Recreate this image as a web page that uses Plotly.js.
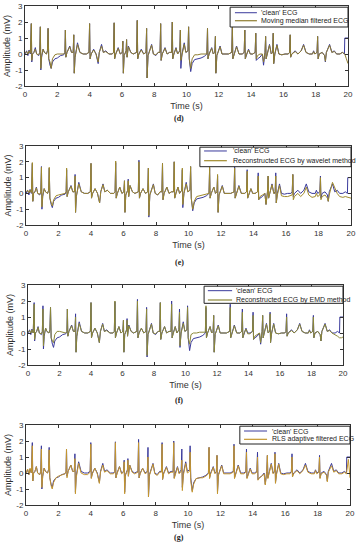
<!DOCTYPE html>
<html>
<head>
<meta charset="utf-8">
<script src="https://cdn.plot.ly/plotly-3.0.1.min.js"></script>
<style>html,body{margin:0;padding:0;background:#fff;}#chart{width:358px;height:550px;}</style>
</head>
<body>
<div id="chart"></div>
<script>
// time base (s)
const time = [
0,0.10,0.18,0.25,0.33,0.39,0.42,0.47,0.55,0.64,0.72,0.85,0.91,0.95,0.98,1.03,
1.12,1.20,1.33,1.39,1.43,1.47,1.55,1.62,1.70,1.85,2.00,2.20,2.40,
2.47,2.50,2.53,2.60,2.77,2.88,2.98,3.02,3.05,3.10,3.25,3.40,3.60,3.80,
3.96,4.00,4.03,4.10,4.25,4.40,4.53,4.60,4.74,4.85,5.00,5.20,5.40,
5.48,5.52,5.55,5.62,5.77,5.90,6.02,6.06,6.09,6.14,6.26,6.29,6.32,6.40,6.55,6.70,
6.91,6.95,6.98,7.05,7.20,7.35,7.49,7.53,7.56,7.62,7.84,7.95,8.10,8.25,
8.36,8.40,8.43,8.50,8.67,8.80,8.95,9.08,9.12,9.15,9.22,9.35,9.45,
9.58,9.62,9.65,9.72,9.86,9.96,10.09,10.13,10.17,10.26,10.35,10.50,10.70,10.90,11.10,
11.26,11.30,11.33,11.40,11.56,11.66,11.75,11.79,11.82,11.88,12.08,12.20,12.40,12.60,
12.80,12.84,12.87,12.95,13.10,13.25,13.45,13.57,13.61,13.64,13.72,13.84,13.95,14.10,
14.25,14.29,14.32,14.40,14.55,14.70,14.77,14.86,14.90,14.93,15.00,15.14,15.25,
15.33,15.37,15.40,15.47,15.60,15.72,15.90,16.10,16.30,
16.38,16.42,16.45,16.52,16.73,16.90,17.10,17.25,17.40,17.60,17.80,
17.87,17.95,18.08,18.12,18.15,18.22,18.40,18.55,18.60,18.66,18.86,19.00,19.15,19.30,
19.50,19.65,19.78,19.80,19.90,20.00
];
// 'clean' ECG (mV)
const clean = [
0,0.2,-0.1,0.25,0,1.9,-0.5,0,0.1,0.4,0,-0.1,0.1,1.7,-1.0,-0.2,
0.3,0.1,0,0.2,1.6,-0.3,-0.7,-0.9,-0.5,-0.3,-0.25,-0.1,-0.05,
0.1,1.5,-0.2,0.1,0.5,0.1,0.1,1.2,-1.2,-0.2,0.7,0.1,0,0,
0.1,1.9,-0.3,0,0.3,0,-0.6,0.1,0.6,0.1,0.2,0,0,
0.1,1.95,-0.3,0,0.4,0,0.1,0.8,-1.2,-0.1,0.2,0.9,-0.2,0.5,0.1,0,
0.1,2.1,-0.3,0,0.3,0,0.1,1.6,-1.5,-0.1,0.6,0,-0.1,0.1,
0.1,1.9,-0.4,0,0.4,0,0.1,0.1,2.0,-0.3,0,0.4,0,
0.2,1.5,-0.9,0,0.7,0.1,0.2,1.7,-0.3,-1.1,-0.6,-0.35,-0.3,-0.25,-0.15,
0,1.6,-0.3,0,0.4,0,0.1,1.1,-1.2,-0.1,0.5,0,0,0,
0.1,1.8,-0.3,0,0.5,0,0,0.1,1.5,-0.3,0,0.3,0,0,
0.1,1.3,-0.4,-0.3,-0.2,0,-0.7,0.1,1.1,-0.3,0,0.6,0,
0.1,1.3,-0.6,0,0.6,0,-0.05,0,0,
0.1,1.2,-0.2,0,0.2,0,0.2,0.6,0.1,0,0,
0.2,0,0.1,1.1,-0.3,0,0.1,-0.1,-0.5,0.1,0.6,0.1,0.2,0,
0,0.1,0,1.0,1.0,1.0
];
// Moving median filtered ECG (mV)
const medianFiltered = [
0.05,0.15,0,0.2,0.05,1.9,-0.4,0,0.1,0.3,0,-0.05,0.1,1.7,-0.9,-0.1,
0.3,0.1,0,0.2,1.6,-0.3,-0.5,-0.9,-0.3,-0.05,0,0,0,
0.1,1.5,-0.2,0.1,0.45,0.1,0.1,1.2,-1.2,-0.2,0.6,0.1,0,0,
0.1,1.9,-0.3,0,0.25,0,-0.5,0.1,0.5,0.1,0.15,0,0,
0.1,1.95,-0.3,0,0.35,0,0.1,0.8,-1.2,-0.1,0.2,0.9,-0.2,0.45,0.1,0,
0.1,2.1,-0.3,0,0.25,0,0.1,1.6,-1.5,-0.1,0.55,0,-0.05,0.1,
0.1,1.9,-0.4,0,0.35,0,0.1,0.1,2.0,-0.3,0,0.35,0,
0.2,1.5,-0.4,0,0.6,0.1,0.2,1.7,-0.3,-0.9,-0.3,-0.05,-0.05,0,0,
0,1.6,-0.3,0,0.35,0,0.1,1.1,-1.2,-0.1,0.45,0,0,0,
0.1,1.8,-0.3,0,0.45,0,0,0.1,1.5,-0.3,0,0.25,0,0,
0.1,1.3,-0.3,-0.1,0,0,-0.5,0.1,1.1,-0.3,0,0.55,0,
0.1,1.3,-0.6,0,0.55,0,-0.05,0,0,
0.1,1.2,-0.2,0,0.15,0,0.2,0.55,0.1,0,0,
0.15,0,0.1,1.1,-0.3,0,0.1,-0.1,-0.45,0.1,0.55,0.1,0.15,0,
0,0.1,0,0,-0.3,-0.6
];
// Reconstructed ECG by wavelet method (mV)
const waveletRec = [
0.1,0.2,0.05,0.2,0.05,1.95,-0.5,0.05,0.1,0.35,0,-0.05,0.1,1.65,-0.85,-0.1,
0.3,0.1,0,0.2,1.65,-0.3,-0.6,-0.8,-0.4,-0.15,-0.1,-0.05,0,
0.1,1.6,-0.2,0.1,0.45,0.1,0.1,1.1,-1.2,-0.15,0.6,0.1,0,0,
0.1,1.9,-0.3,0,0.3,0,-0.6,0.1,0.55,0.1,0.2,0,0,
0.1,2.05,-0.3,0,0.4,0,0.1,0.8,-1.2,-0.1,0.2,0.8,-0.2,0.5,0.1,0,
0.1,2.0,-0.3,0,0.3,0,0.1,1.6,-1.4,-0.1,0.55,0,-0.1,0.1,
0.1,1.9,-0.4,0,0.4,0,0.1,0.1,2.0,-0.3,0,0.4,0,
0.2,1.6,-0.7,0,0.6,0.1,0.2,1.7,-0.3,-1.0,-0.5,-0.2,-0.15,-0.1,-0.05,
0,1.7,-0.3,0,0.4,0,0.1,1.2,-1.2,-0.1,0.45,0,0,0,
0.1,1.6,-0.3,0,0.45,0,0,0.1,1.4,-0.3,0,0.3,0,0,
0.1,1.1,-0.4,-0.2,-0.1,0,-0.7,0.1,1.1,-0.3,0,0.55,0,
0.0,1.1,-0.6,-0.1,0.5,-0.15,-0.2,-0.2,-0.15,
-0.1,1.2,-0.4,-0.2,0,-0.2,0,0.4,-0.1,-0.25,-0.2,
0,-0.2,-0.1,1.0,-0.4,-0.2,-0.1,-0.3,-0.5,-0.1,0.7,0.3,0,-0.2,
-0.25,-0.2,-0.25,-0.25,-0.3,-0.3
];
// Reconstructed ECG by EMD method (mV)
const emdRec = [
0.05,0.15,0,0.2,0,1.8,-0.4,0,0.1,0.35,0,-0.05,0.1,1.5,-0.8,-0.1,
0.3,0.1,0,0.2,1.6,-0.3,-0.5,-0.6,-0.1,0.1,0.1,0.05,0,
0.1,1.5,-0.2,0.1,0.45,0.1,0.1,1.0,-1.2,-0.2,0.6,0.1,0,0,
0.1,1.9,-0.3,0,0.3,0,-0.6,0.1,0.55,0.1,0.15,0,0,
0.1,2.0,-0.3,0,0.4,0,0.1,0.8,-1.2,-0.1,0.2,0.8,-0.2,0.45,0.1,0,
0.1,2.0,-0.3,0,0.3,0,0.1,1.5,-1.4,-0.1,0.55,0,-0.05,0.1,
0.1,1.9,-0.4,0,0.4,0,0.1,0.1,1.8,-0.3,0,0.4,0,
0.2,1.3,-0.8,0,0.6,0.1,0.2,1.6,-0.3,-0.7,-0.1,0,0,0.05,0.05,
0.05,1.7,-0.3,0,0.4,0,0.1,1.1,-1.2,-0.1,0.45,0,0,0,
0.1,1.6,-0.3,0,0.45,0,0,0.1,1.3,-0.3,0,0.25,-0.05,-0.05,
0.1,1.1,-0.4,-0.2,-0.1,0,-0.6,0.1,1.1,-0.3,0,0.55,0,
0.1,1.2,-0.6,0,0.55,0,-0.05,0,0,
0.1,1.0,-0.2,0,0.15,0,0.2,0.55,0.1,0,0,
0.15,0,0.1,1.0,-0.3,0,0.1,-0.1,-0.5,0.1,0.55,0.1,0.15,0,
-0.1,-0.2,-0.3,-0.3,-0.3,-0.25
];
// RLS adaptive filtered ECG (mV)
const rlsFiltered = [
0,0.25,-0.1,0.3,0,1.7,-0.5,0,0.1,0.4,0,-0.1,0.1,1.5,-0.9,-0.2,
0.3,0.1,0,0.2,1.45,-0.3,-0.8,-1.0,-0.6,-0.3,-0.2,-0.1,-0.05,
0.1,1.5,-0.3,0.1,0.5,0.1,0.1,0.9,-1.3,-0.3,0.6,0.0,-0.1,-0.1,
0.05,1.8,-0.35,-0.05,0.3,-0.05,-0.65,0.05,0.5,0.05,0.15,-0.05,-0.05,
0.05,1.9,-0.3,-0.05,0.4,-0.05,0.05,0.7,-1.3,-0.15,0.15,0.8,-0.2,0.5,0.05,-0.05,
0.05,1.9,-0.3,-0.05,0.3,-0.05,0.05,1.0,-1.5,-0.15,0.55,-0.05,-0.15,0.05,
0.05,1.8,-0.4,-0.05,0.35,-0.05,0.05,0.05,1.9,-0.35,-0.05,0.35,-0.05,
0.1,0.8,-1.1,-0.1,0.6,0.0,0.1,1.3,-0.5,-1.2,-0.7,-0.35,-0.3,-0.3,-0.2,
-0.05,1.6,-0.35,-0.05,0.35,-0.05,0.05,1.1,-1.3,-0.15,0.45,-0.05,-0.05,-0.05,
0.05,1.7,-0.35,-0.05,0.45,-0.05,-0.05,0.05,1.3,-0.35,-0.05,0.25,-0.05,-0.05,
0.05,1.0,-0.45,-0.3,-0.2,-0.05,-0.75,0.05,1.1,-0.35,-0.05,0.55,-0.05,
0.05,1.2,-0.65,-0.05,0.55,-0.05,-0.1,-0.05,-0.05,
0.05,1.0,-0.25,-0.05,0.15,-0.05,0.15,0.5,0.05,-0.05,-0.05,
0.15,-0.05,0.05,1.0,-0.35,-0.05,0.05,-0.15,-0.55,0.05,0.45,0.05,0.15,-0.05,
-0.05,0.05,-0.05,0.1,0.85,-0.3
];

const panelLabels = ['(d)', '(e)', '(f)', '(g)'];
const cleanName = "'clean' ECG";
const filteredNames = ['Moving median filtered ECG', 'Reconstructed ECG by wavelet method',
                       'Reconstructed ECG by EMD method', 'RLS adaptive filtered ECG'];
const filteredSeries = [medianFiltered, waveletRec, emdRec, rlsFiltered];
const xTickVals = [0,2,4,6,8,10,12,14,16,18,20];
const yTickVals = [-2,-1,0,1,2,3];

[clean, medianFiltered, waveletRec, emdRec, rlsFiltered].forEach(function(a, i){
  if (a.length !== time.length) console.error('length mismatch', i, a.length, time.length);
});

// layout geometry (pixels -> paper)
const W = 358, H = 550;
const panels = [
  {x0: 25, x1: 348, top: 6,   bot: 86,  label: 119, leg: {l: 0.635, b: 0.7375, r1: 0.916, r2: 0.816, s0: 0.650, s1: 0.718, tx: 0.724}},
  {x0: 26, x1: 351, top: 146, bot: 225, label: 262, leg: {l: 0.535, b: 0.738,  r1: 0.937, r2: 0.814, s0: 0.548, s1: 0.618, tx: 0.632}},
  {x0: 28, x1: 343, top: 285, bot: 365, label: 400, leg: {l: 0.559, b: 0.771,  r1: 0.929, r2: 0.8125, s0: 0.571, s1: 0.648, tx: 0.655}},
  {x0: 26, x1: 350, top: 425, bot: 505, label: 537, leg: {l: 0.660, b: 0.7625, r1: 0.925, r2: 0.821, s0: 0.673, s1: 0.744, tx: 0.753}}
];
const blue = '#3a3a9c';
const filtColors = ['#8f7d30', '#a08a2c', '#8c8838', '#c4962f'];
const font = 'Arial, "Liberation Sans", sans-serif';

const data = [];
const layout = {
  width: W, height: H,
  margin: {l: 0, r: 0, t: 0, b: 0},
  paper_bgcolor: '#fff', plot_bgcolor: '#fff',
  showlegend: false,
  font: {family: font, color: '#222'},
  shapes: [], annotations: []
};

panels.forEach(function(p, i){
  const n = i === 0 ? '' : String(i + 1);
  const xa = 'x' + n, ya = 'y' + n;
  data.push({x: time, y: clean, xaxis: xa, yaxis: ya, type: 'scatter', mode: 'lines',
             name: cleanName, line: {color: blue, width: 1}});
  data.push({x: time, y: filteredSeries[i], xaxis: xa, yaxis: ya, type: 'scatter', mode: 'lines',
             name: filteredNames[i], line: {color: filtColors[i], width: 1}});
  const axCommon = {showline: true, linecolor: '#333', linewidth: 1, mirror: 'ticks',
                    ticks: 'inside', ticklen: 3, tickcolor: '#333', showgrid: false,
                    zeroline: false, automargin: false, tickfont: {size: 8, family: font, color: '#333'}};
  layout['xaxis' + n] = Object.assign({}, axCommon, {
    domain: [p.x0 / W, p.x1 / W], anchor: ya, range: [0, 20],
    tickvals: xTickVals, ticktext: xTickVals.map(String),
    title: {text: 'Time (s)', font: {size: 9, family: font, color: '#333'}, standoff: 5}
  });
  layout['yaxis' + n] = Object.assign({}, axCommon, {
    domain: [1 - p.bot / H, 1 - p.top / H], anchor: xa, range: [-2, 3],
    tickvals: yTickVals, ticktext: yTickVals.map(String),
    title: {text: 'Amplitude (mV)', font: {size: 9, family: font, color: '#333'}, standoff: 3}
  });
  const xr = xa + ' domain', yr = ya + ' domain', L = p.leg;
  layout.shapes.push({type: 'rect', xref: xr, yref: yr, x0: L.l, x1: 1, y0: L.b, y1: 0.985,
                      line: {color: '#222', width: 1}, fillcolor: '#fff', layer: 'above'});
  layout.shapes.push({type: 'line', xref: xr, yref: yr, x0: L.s0, x1: L.s1, y0: L.r1, y1: L.r1,
                      line: {color: blue, width: 1}, layer: 'above'});
  layout.shapes.push({type: 'line', xref: xr, yref: yr, x0: L.s0, x1: L.s1, y0: L.r2, y1: L.r2,
                      line: {color: filtColors[i], width: 1.2}, layer: 'above'});
  layout.annotations.push({xref: xr, yref: yr, x: L.tx, y: L.r1, xanchor: 'left', yanchor: 'middle',
                           text: cleanName, showarrow: false, font: {size: 7, family: font, color: '#222'}});
  layout.annotations.push({xref: xr, yref: yr, x: L.tx, y: L.r2, xanchor: 'left', yanchor: 'middle',
                           text: filteredNames[i], showarrow: false, font: {size: 7, family: font, color: '#222'}});
  layout.annotations.push({xref: 'paper', yref: 'paper', x: 179 / W, y: 1 - p.label / H,
                           xanchor: 'center', yanchor: 'middle', showarrow: false,
                           text: '<b>' + panelLabels[i] + '</b>',
                           font: {size: 8, family: '"Times New Roman", "Liberation Serif", serif', color: '#222'}});
});

Plotly.newPlot('chart', data, layout, {staticPlot: true, displayModeBar: false});
</script>
</body>
</html>
